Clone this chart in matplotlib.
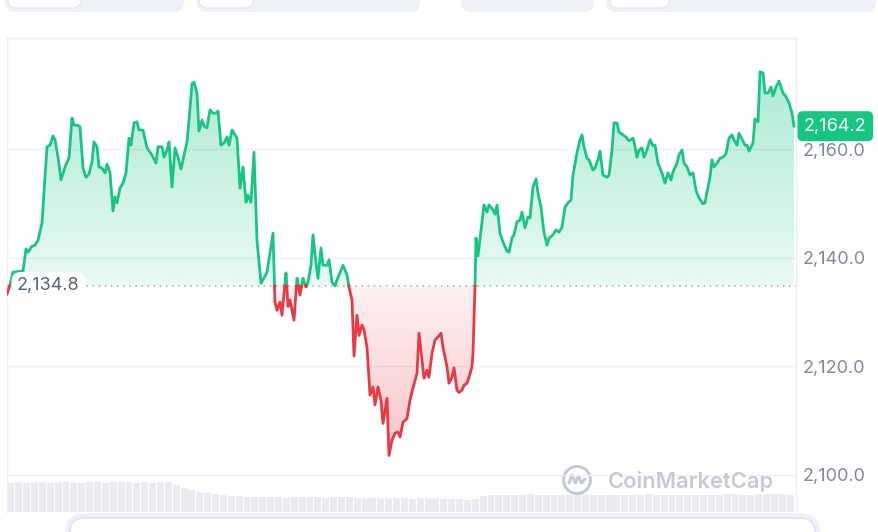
import numpy as np
import matplotlib
matplotlib.use('Agg')
import matplotlib.pyplot as plt
from matplotlib.path import Path
from matplotlib.patches import FancyBboxPatch, Circle
from matplotlib.lines import Line2D
from matplotlib.transforms import IdentityTransform
from matplotlib.colors import to_rgb

plt.rcParams['font.family'] = ['Inter', 'DejaVu Sans']

# time position along the 24h window (0 .. 787) and price
t = [0, 3, 6, 13, 16, 19, 21, 25, 28, 31,
     35, 38, 40, 43, 46, 48, 51, 54, 58, 61,
     62, 65, 67, 70, 73, 76, 79, 82, 85, 87,
     90, 92, 95, 98, 100, 103, 106, 108, 110, 113,
     116, 119, 122, 124, 127, 130, 132, 136, 140, 145,
     149, 151, 155, 157, 160, 162, 165, 168, 171, 174,
     176, 180, 182, 185, 187, 190, 192, 195, 197, 200,
     203, 206, 209, 211, 214, 217, 220, 222, 225, 228,
     230, 233, 236, 239, 241, 244, 247, 250, 254, 260,
     266, 268, 270, 273, 275, 279, 281, 283, 287, 290,
     293, 296, 299, 301, 304, 306, 309, 311, 314, 316,
     320, 322, 325, 328, 330, 334, 336, 340, 342, 345,
     347, 350, 352, 355, 357, 360, 363, 366, 368, 371,
     374, 376, 380, 382, 385, 388, 391, 393, 396, 400,
     403, 406, 410, 412, 415, 417, 420, 422, 425, 428,
     431, 434, 436, 440, 442, 445, 447, 450, 452, 455,
     457, 460, 462, 465, 466, 468, 469, 471, 477, 480,
     482, 486, 488, 490, 493, 496, 500, 502, 505, 507,
     510, 513, 515, 518, 521, 523, 526, 529, 531, 534,
     537, 540, 542, 546, 549, 552, 555, 558, 561, 564,
     566, 570, 573, 575, 577, 580, 582, 586, 588, 591,
     593, 596, 600, 602, 605, 607, 610, 612, 616, 619,
     622, 626, 627, 630, 632, 635, 637, 640, 643, 646,
     648, 651, 655, 658, 661, 664, 666, 670, 672, 675,
     677, 680, 683, 686, 689, 692, 696, 698, 700, 703,
     705, 707, 710, 713, 716, 719, 722, 725, 727, 730,
     732, 735, 738, 740, 742, 746, 748, 751, 753, 756,
     758, 761, 764, 766, 769, 772, 776, 779, 782, 785,
     787]

price = [2133.3, 2135.0, 2137.3, 2137.5, 2137.5, 2141.6, 2141.0, 2142.1, 2142.3, 2143.2,
         2146.4, 2154.8, 2160.4, 2160.7, 2162.4, 2161.7, 2158.5, 2154.3, 2156.7, 2158.0,
         2158.3, 2165.7, 2164.4, 2164.4, 2164.1, 2156.5, 2154.8, 2155.4, 2157.6, 2161.3,
         2160.4, 2156.7, 2156.5, 2155.6, 2157.2, 2155.6, 2148.6, 2151.2, 2150.1, 2152.8,
         2153.7, 2155.6, 2162.0, 2160.7, 2164.8, 2165.0, 2163.5, 2163.5, 2160.2, 2158.9,
         2157.4, 2160.4, 2160.4, 2158.5, 2159.8, 2161.3, 2153.0, 2160.2, 2158.5, 2156.3,
         2158.0, 2161.3, 2165.3, 2172.0, 2172.3, 2170.3, 2163.3, 2165.3, 2164.2, 2163.9,
         2167.2, 2166.6, 2166.6, 2167.0, 2160.7, 2161.1, 2162.2, 2160.7, 2163.5, 2162.6,
         2162.0, 2152.8, 2156.7, 2150.2, 2151.5, 2150.2, 2159.4, 2143.2, 2135.3, 2137.3,
         2144.5, 2131.8, 2130.3, 2131.8, 2129.4, 2137.2, 2131.0, 2132.2, 2128.5, 2136.2,
         2133.1, 2136.2, 2134.6, 2135.5, 2138.6, 2144.2, 2139.0, 2136.2, 2141.8, 2138.6,
         2138.6, 2139.6, 2135.5, 2134.8, 2135.9, 2137.7, 2138.6, 2136.8, 2134.6, 2132.2,
         2121.9, 2129.4, 2125.7, 2127.6, 2126.7, 2123.5, 2114.7, 2116.2, 2112.9, 2116.2,
         2113.8, 2109.5, 2114.1, 2103.6, 2106.4, 2107.7, 2107.9, 2107.0, 2109.7, 2110.4,
         2113.8, 2116.0, 2118.7, 2126.1, 2121.1, 2117.8, 2119.3, 2118.0, 2122.4, 2124.8,
         2125.4, 2126.1, 2123.5, 2119.9, 2116.9, 2118.0, 2119.7, 2115.6, 2115.2, 2115.6,
         2116.5, 2116.9, 2118.0, 2119.9, 2122.4, 2134.8, 2143.6, 2140.3, 2149.7, 2148.4,
         2149.7, 2148.8, 2148.0, 2149.7, 2144.5, 2142.9, 2141.2, 2141.0, 2143.6, 2144.2,
         2146.6, 2146.9, 2148.4, 2145.5, 2147.5, 2147.3, 2153.0, 2154.5, 2151.9, 2149.3,
         2144.7, 2142.3, 2143.6, 2144.2, 2145.1, 2144.7, 2145.6, 2149.3, 2150.1, 2150.6,
         2155.2, 2159.3, 2161.7, 2162.6, 2160.4, 2158.3, 2158.0, 2156.1, 2156.5, 2158.0,
         2159.6, 2155.2, 2154.8, 2155.2, 2159.8, 2164.8, 2164.8, 2163.1, 2162.6, 2162.2,
         2161.5, 2162.0, 2161.3, 2158.5, 2159.8, 2160.2, 2158.5, 2159.8, 2161.7, 2160.6,
         2160.7, 2157.4, 2155.6, 2153.7, 2155.6, 2154.3, 2155.8, 2157.4, 2158.9, 2159.8,
         2157.4, 2156.7, 2155.2, 2155.6, 2152.4, 2151.0, 2149.9, 2150.1, 2152.1, 2154.8,
         2158.0, 2156.7, 2157.4, 2158.3, 2158.5, 2159.1, 2162.0, 2162.6, 2161.7, 2160.7,
         2162.9, 2161.8, 2160.7, 2160.7, 2159.6, 2161.1, 2165.5, 2165.0, 2174.2, 2174.0,
         2170.3, 2170.3, 2171.4, 2169.8, 2171.4, 2172.5, 2170.3, 2169.6, 2168.5, 2166.6,
         2164.2]

# volume bars (relative height), left to right
volume = [29, 30, 29, 30, 30, 29, 30, 30, 29, 29, 30, 30, 29, 30, 30, 30, 29, 30, 29, 30, 30,
          27, 24, 22, 20, 19, 18, 17, 16,
          16, 15, 15, 15, 15, 15, 14, 15, 15, 15, 15, 14, 15, 15, 15, 14, 14,
          14, 14, 14, 14, 14, 13, 14, 14, 14, 13, 13, 13, 12, 13,
          16, 17, 17, 17, 17, 17, 18, 17, 17, 17, 17, 17, 17, 18, 17, 17, 17, 17, 17, 17,
          17, 18, 17, 17, 17, 17, 17, 17, 17, 17, 17, 18, 18, 17, 17, 18, 18, 18, 18, 17]

open_price = 2134.8
last_price = 2164.2
y_ticks = [2100, 2120, 2140, 2160]

GREEN = '#16c784'
RED = '#ea3943'
W, H = 879, 532


def split_at(tv, pv, b):
    ts, ps = [tv[0]], [pv[0]]
    for i in range(1, len(tv)):
        a, c = pv[i - 1] - b, pv[i] - b
        if a * c < 0:
            f = a / (a - c)
            ts.append(tv[i - 1] + f * (tv[i] - tv[i - 1]))
            ps.append(b)
        ts.append(tv[i])
        ps.append(pv[i])
    return np.array(ts, float), np.array(ps, float)


def gradient_fill(ax, tv, pv, b, color, above, a_base, a_far, far):
    mask = pv >= b if above else pv <= b
    poly = ax.fill_between(tv, pv, b, where=mask, interpolate=True,
                           facecolor='none', edgecolor='none')
    clip = Path.make_compound_path(*poly.get_paths())
    img = np.zeros((256, 1, 4))
    img[:, :, :3] = to_rgb(color)
    lo, hi = (b, far) if above else (far, b)
    alphas = np.linspace(a_base, a_far, 256) if above else np.linspace(a_far, a_base, 256)
    img[:, 0, 3] = alphas
    im = ax.imshow(img, aspect='auto', origin='lower', extent=[tv.min(), tv.max(), lo, hi],
                   interpolation='bilinear', zorder=1)
    im.set_clip_path(clip, transform=ax.transData)


def box(fig, x0, y0, x1, y1, fc, ec='none', lw=0, r=8, z=0):
    p = FancyBboxPatch((x0, H - y1), x1 - x0, y1 - y0,
                       boxstyle='round,pad=0,rounding_size=%d' % r,
                       transform=IdentityTransform(), fc=fc, ec=ec, lw=lw, zorder=z)
    fig.add_artist(p)


fig = plt.figure(figsize=(W / 100, H / 100), dpi=100)
fig.patch.set_facecolor('white')

# top tab strip
box(fig, 5, -20, 184, 12, '#eef1f5', r=10)
box(fig, 8, -20, 81, 8, 'white', ec='#e4e7ec', lw=0.8, r=8)
box(fig, 197, -20, 420, 12, '#eef1f5', r=10)
box(fig, 199, -20, 253, 8, 'white', ec='#e4e7ec', lw=0.8, r=8)
box(fig, 461, -20, 594, 12, '#eef1f5', r=10)
box(fig, 606, -20, 876, 12, '#eef1f5', r=10)
box(fig, 610, -20, 669, 8, 'white', ec='#e4e7ec', lw=0.8, r=8)

# volume
vax = fig.add_axes([7 / W, 1 - 512 / H, 789 / W, 34 / H])
edges = np.linspace(0, t[-1], len(volume) + 1)
centers = (edges[:-1] + edges[1:]) / 2
vax.bar(centers, volume, width=(edges[1] - edges[0]) * 0.88, color='#eaecf2', lw=0)
vax.set_xlim(0, 789)
vax.set_ylim(0, 34)
vax.axis('off')

ax = fig.add_axes([7 / W, 1 - 512 / H, 789 / W, (512 - 38) / H])
ax.set_facecolor('none')
ax.set_zorder(2)

tt, pp = split_at(t, price, open_price)
gradient_fill(ax, tt, pp, open_price, GREEN, True, 0.09, 0.36, 2175)
gradient_fill(ax, tt, pp, open_price, RED, False, 0.07, 0.30, 2103)

green = np.where(pp >= open_price, pp, np.nan)
red = np.where(pp <= open_price, pp, np.nan)
ax.plot(tt, green, color=GREEN, lw=2.0, solid_joinstyle='round', zorder=4)
ax.plot(tt, red, color=RED, lw=2.0, solid_joinstyle='round', zorder=4)

for v in y_ticks:
    ax.axhline(v, color='#eff1f4', lw=1, zorder=0)
ax.axhline(open_price, color='#a4adbc', lw=1.1, ls=(0, (1, 3)), zorder=3)

ax.set_xlim(0, 789)
ax.set_ylim(2093.19, 2180.43)
ax.set_xticks([])
ax.yaxis.tick_right()
ax.set_yticks(y_ticks)
ax.set_yticklabels(['{:,.1f}'.format(v) for v in y_ticks])
ax.tick_params(axis='y', length=0, pad=5, labelsize=13, labelcolor='#808a9d')
ax.spines['bottom'].set_visible(False)
for s in ['left', 'top', 'right']:
    ax.spines[s].set_color('#eceff3')
    ax.spines[s].set_linewidth(1)

ax.text(0.0127, open_price, '{:,.1f}'.format(open_price), transform=ax.get_yaxis_transform(),
        ha='left', va='center', fontsize=13, color='#58667e', zorder=6,
        bbox=dict(boxstyle='round,pad=0.3,rounding_size=0.5', fc='white', ec='none'))
ax.text(1.0101, last_price, '{:,.1f}'.format(last_price), transform=ax.get_yaxis_transform(),
        ha='left', va='center', fontsize=13, color='white', zorder=7, clip_on=False,
        bbox=dict(boxstyle='round,pad=0.36,rounding_size=0.3', fc=GREEN, ec='none'))

# watermark
wm = '#c5cad6'
fig.text(608 / W, 1 - 481 / H, 'CoinMarketCap', fontsize=15.8, color=wm, weight='semibold',
         ha='left', va='center')
fig.add_artist(Circle((577, H - 480), 13.5, transform=IdentityTransform(), fill=False,
                      ec=wm, lw=2.2))
mx = np.array([-8, -5, -1.5, 1.5, 4.5, 8]) + 577
my = np.array([-3, 5, -3, 4, -3, 1]) + H - 480
fig.add_artist(Line2D(mx, my, transform=IdentityTransform(), color=wm, lw=2.2,
                      solid_joinstyle='round', solid_capstyle='round'))

# bottom panel
box(fig, 68, 516, 817, 570, 'none', ec='#eef0fb', lw=4, r=16, z=5)
box(fig, 70, 518, 815, 570, 'white', ec='#dfe3f7', lw=1.2, r=14, z=5)

fig.savefig('out.png', dpi=100)
